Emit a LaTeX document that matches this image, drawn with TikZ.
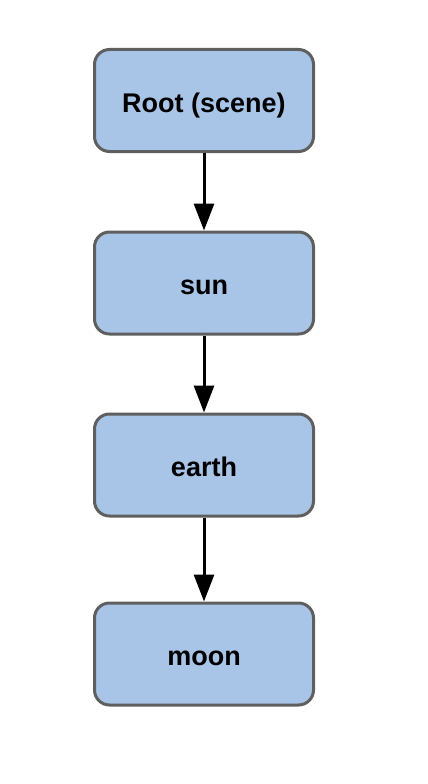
\documentclass[tikz,border=0pt]{standalone}
\usepackage{fontspec}
\setmainfont{Liberation Sans}
\usepackage{tikz}
\usetikzlibrary{arrows.meta}

\definecolor{boxblue}{HTML}{A8C4E6}
\definecolor{boxgray}{HTML}{5F5F5F}

\begin{document}
\begin{tikzpicture}[x=1pt,y=-1pt,
  objbox/.style={draw=boxgray,line width=3pt,fill=boxblue,rounded corners=15pt,
    minimum width=219pt,minimum height=102pt,text height=23pt,text depth=0pt,
    font=\fontsize{27}{30}\selectfont\bfseries},
  link/.style={line width=3pt,-{Triangle[length=27pt,width=20pt]}}]
\useasboundingbox (0,0) rectangle (428,784);

\node[objbox] (root) at (204,100.5) {Root (scene)};
\node[objbox] (sun) at (204,283) {sun};
\node[objbox] (earth) at (204,465) {earth};
\node[objbox] (moon) at (204,654) {moon};

\draw[link] (root) -- (sun);
\draw[link] (sun) -- (earth);
\draw[link] (earth) -- (moon);

\end{tikzpicture}
\end{document}
